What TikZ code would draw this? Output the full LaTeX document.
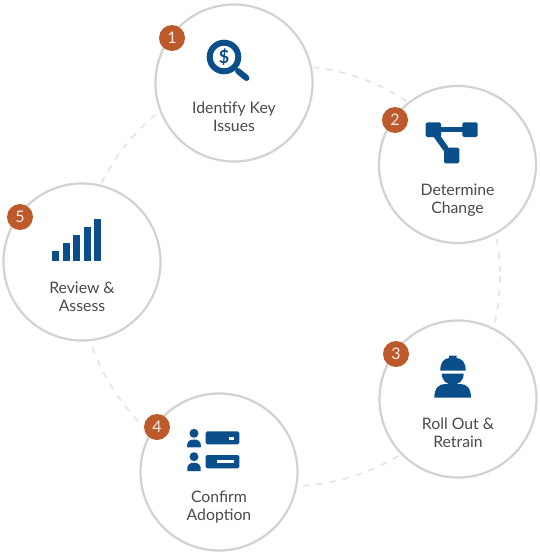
\documentclass[tikz,border=0pt]{standalone}
\usepackage{fontspec}
\setmainfont{Lato}
\usepackage{xcolor}
\definecolor{ringgray}{HTML}{D2D2D2}
\definecolor{dashgray}{HTML}{E6E6E6}
\definecolor{badgeorange}{HTML}{BC5A2B}
\definecolor{iconblue}{HTML}{0B4F8A}
\definecolor{labelgray}{HTML}{4A4A4A}
\tikzset{
  stepcircle/.style={circle,draw=ringgray,line width=2.2pt,fill=white,minimum size=157pt,inner sep=0pt},
  stepbadge/.style={circle,fill=badgeorange,text=white!90!badgeorange,minimum size=26pt,inner sep=0pt,font=\fontsize{16}{16}\selectfont},
  steplabel/.style={align=center,text=labelgray,font=\fontsize{15.8}{18}\selectfont},
  iconfill/.style={fill=iconblue,draw=none},
}
\begin{document}
\begin{tikzpicture}[x=1pt,y=-1pt]
    \useasboundingbox (0,0) rectangle (540,554);
    % dashed ring behind the steps
    \draw[dashgray,line width=1.8pt,dash pattern=on 6.5pt off 7pt] (290,276) circle (210);
    % steps
    \node[stepcircle] (circleA) at (234,83) {};
    \node[stepcircle] (circleB) at (457.5,164.5) {};
    \node[stepcircle] (circleC) at (458,399) {};
    \node[stepcircle] (circleD) at (219,472) {};
    \node[stepcircle] (circleE) at (82,262) {};
    \node[stepbadge] (badgeA) at (172,38) {1};
    \node[stepbadge] (badgeB) at (395,120) {2};
    \node[stepbadge] (badgeC) at (396,354) {3};
    \node[stepbadge] (badgeD) at (157,427) {4};
    \node[stepbadge] (badgeE) at (20,217) {5};
    \node[steplabel] (labelA) at (234,117) {Identify Key\\Issues};
    \node[steplabel] (labelB) at (457.5,200) {Determine\\Change};
    \node[steplabel] (labelC) at (458,432.5) {Roll Out \&\\Retrain};
    \node[steplabel] (labelD) at (219,507) {Confirm\\Adoption};
    \node[steplabel] (labelE) at (82,296.5) {Review \&\\Assess};
    % magnifier
    \draw[iconblue,line width=6pt] (224,57) circle (14.3);
    \draw[iconblue,line width=6pt,line cap=round] (238,71) -- (246.5,78);
    \node[text=iconblue,font=\bfseries\fontsize{18}{18}\selectfont] (dollar) at (224,57) {\$};
    % linked squares
    \draw[iconfill,rounded corners=1.5pt] (425.7,122.3) rectangle (441,137);
    \draw[iconfill,rounded corners=1.5pt] (462.3,122.3) rectangle (477.7,137);
    \draw[iconfill,rounded corners=1.5pt] (444,147.7) rectangle (459.3,163.3);
    \draw[iconblue,line width=5pt] (440,129.5) -- (463,129.5);
    \draw[iconblue,line width=6pt] (436,135) -- (446,149);
    % worker
    \fill[iconblue] (440.3,370.7) .. controls (440.3,362) and (444,358.5) .. (449,358) -- (449,355.7) -- (456.5,355.7) -- (456.5,358) .. controls (462,358.5) and (465.7,362) .. (465.7,370.7) -- cycle;
    \fill[iconblue] (441.7,373.5) -- (463.7,373.5) .. controls (463.5,381) and (459,384.5) .. (452.7,384.5) .. controls (446.5,384.5) and (442,381) .. (441.7,373.5) -- cycle;
    \fill[iconblue] (434.3,397.7) .. controls (434.3,388) and (439,384) .. (445,384) -- (460.5,384) .. controls (466.5,384) and (471,388) .. (471,397.7) -- cycle;
    % persons and cards
    \fill[iconblue] (194,433.3) circle (4.5);
    \fill[iconblue] (187.3,447.3) .. controls (187.3,438) and (200.7,438) .. (200.7,447.3) -- cycle;
    \fill[iconblue] (187.3,447.3) .. controls (186.5,441) and (190,439.5) .. (194,439.5) .. controls (198,439.5) and (201.5,441) .. (200.7,447.3) -- cycle;
    \fill[iconblue] (194,456.7) circle (4.5);
    \fill[iconblue] (187.3,471) .. controls (186.5,464.5) and (190,462.7) .. (194,462.7) .. controls (198,462.7) and (201.5,464.5) .. (200.7,471) -- cycle;
    \draw[iconfill,rounded corners=1.5pt] (205.7,431.3) rectangle (239.3,444.3);
    \draw[iconfill,rounded corners=1.5pt] (205.7,455) rectangle (239.3,468.3);
    \fill[white] (229.3,436.7) rectangle (234.3,439.7);
    \fill[white] (216.7,460) rectangle (234,463);
    % bars
    \fill[iconblue] (52.3,251) rectangle (59.3,261);
    \fill[iconblue] (62.7,243) rectangle (69.7,261);
    \fill[iconblue] (73.3,235) rectangle (80,261);
    \fill[iconblue] (84,227.3) rectangle (90.7,261);
    \fill[iconblue] (94.3,219.3) rectangle (101,261);
\end{tikzpicture}
\end{document}
